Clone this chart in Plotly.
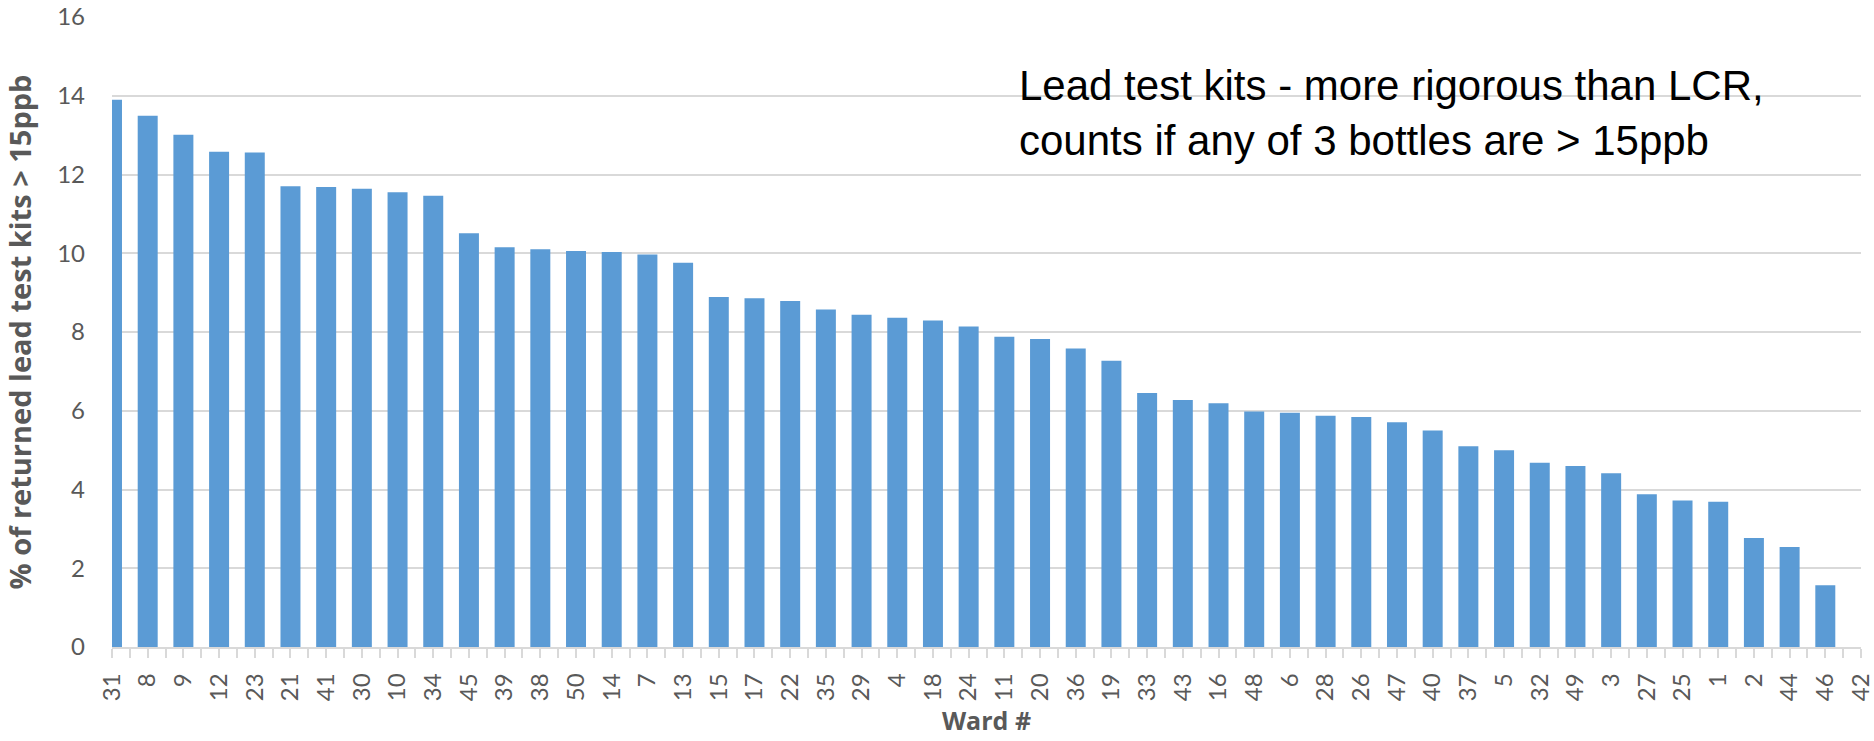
import plotly.graph_objects as go

wards = ["31", "8", "9", "12", "23", "21", "41", "30", "10", "34",
         "45", "39", "38", "50", "14", "7", "13", "15", "17", "22",
         "35", "29", "4", "18", "24", "11", "20", "36", "19", "33",
         "43", "16", "48", "6", "28", "26", "47", "40", "37", "5",
         "32", "49", "3", "27", "25", "1", "2", "44", "46", "42"]

pct_over_15ppb = [13.90, 13.49, 13.01, 12.58, 12.56, 11.70, 11.68, 11.64, 11.55, 11.46,
                  10.51, 10.15, 10.10, 10.06, 10.03, 9.97, 9.76, 8.89, 8.86, 8.79,
                  8.57, 8.44, 8.36, 8.29, 8.14, 7.88, 7.82, 7.58, 7.27, 6.45,
                  6.27, 6.19, 5.98, 5.95, 5.87, 5.84, 5.71, 5.50, 5.10, 5.00,
                  4.68, 4.60, 4.41, 3.88, 3.72, 3.69, 2.77, 2.54, 1.57, 0.0]

y_ticks = [0, 2, 4, 6, 8, 10, 12, 14, 16]

annotation_text = "Lead test kits - more rigorous than LCR,<br>counts if any of 3 bottles are > 15ppb"
y_title = "% of returned lead test kits > 15ppb"
x_title = "Ward #"

idx = list(range(len(wards)))

GRID = "#D9D9D9"
TXT = "#595959"

fig = go.Figure()
fig.add_trace(go.Bar(
    x=idx, y=pct_over_15ppb,
    marker=dict(color="#5B9BD5", line=dict(width=0)),
    hoverinfo="skip",
))

fig.update_layout(
    width=1874, height=741,
    margin=dict(l=112, r=13, t=17, b=94, pad=0),
    paper_bgcolor="white", plot_bgcolor="white",
    bargap=0.44,
    showlegend=False,
    font=dict(family="Lato", color=TXT),
)

fig.update_xaxes(
    range=[0, len(wards) - 1],
    tickmode="array", tickvals=idx, ticktext=wards,
    tickangle=-90,
    tickfont=dict(family="Lato", size=24, color=TXT),
    ticks="outside", ticklen=9, tickwidth=1.5, tickcolor=GRID,
    minor=dict(dtick=1, tick0=0.5, ticks="outside", ticklen=9, tickwidth=1.5, tickcolor=GRID, showgrid=False),
    ticklabelstandoff=6,
    ticklabeloverflow="allow",
    showline=True, linecolor=GRID, linewidth=1.5,
    showgrid=False, zeroline=False,
    automargin=False,
    title=dict(text="<b>" + x_title + "</b>", font=dict(family="Open Sans", size=25, color=TXT), standoff=12),
)

fig.update_yaxes(
    range=[0, 16],
    tickmode="array", tickvals=y_ticks,
    tickfont=dict(family="Lato", size=24, color=TXT),
    ticks="", ticklabelstandoff=26,
    showgrid=True, gridcolor=GRID, gridwidth=1.5,
    showline=False, zeroline=False,
    automargin=False,
    title=dict(text="<b>" + y_title + "</b>", font=dict(family="Open Sans", size=29, color=TXT), standoff=17),
)

fig.add_annotation(
    text=annotation_text,
    xref="paper", yref="paper",
    x=0.5175, y=0.932,
    xanchor="left", yanchor="top",
    align="left", showarrow=False,
    font=dict(family="Liberation Sans, Arial", size=42, color="black"),
)

fig.write_html("out.html", config={"displayModeBar": False},
               post_script="document.body.style.margin='0';")
